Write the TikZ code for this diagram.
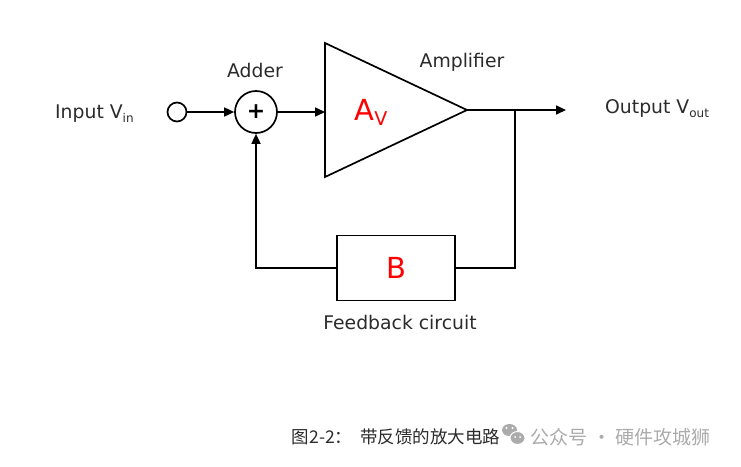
\documentclass[tikz,border=0pt]{standalone}
\usepackage{fontspec}
\setmainfont{DejaVu Sans}
\newfontfamily\cjkfont{Noto Sans CJK SC}
\usetikzlibrary{arrows.meta, positioning}
\definecolor{txtdark}{HTML}{2B2B2B}
\definecolor{wmgray}{HTML}{ABABAB}

\begin{document}
\begin{tikzpicture}[x=1pt,y=-1pt,line width=1.7pt,
    >={Triangle[length=10pt,width=9pt]},
    lbl/.style={text=txtdark, font=\fontsize{18.8}{22}\selectfont},
    gain/.style={text=red, font=\fontsize{29}{32}\selectfont},
    inport/.style={draw, circle, minimum size=19pt, inner sep=0pt},
    sumnode/.style={draw, circle, minimum size=42pt, inner sep=0pt, font=\fontsize{22}{22}\selectfont\bfseries},
    fbbox/.style={draw, rectangle, minimum width=118pt, minimum height=65pt}]
    \useasboundingbox (0,0) rectangle (741,466);

    % Nodes
    \node (in) [inport] at (177,112) {};
    \node (add) [sumnode] at (256,112) {+};
    \draw (325,43) -- (467,110) -- (325,177) -- cycle;
    \coordinate (ampin) at (325,112);
    \coordinate (ampout) at (467,110);
    \coordinate (tap) at (515,110);
    \coordinate (out) at (566,110);
    \node (gainA) [gain] at (371,112) {A\raisebox{-5pt}{\fontsize{19}{19}\selectfont V}};
    \node (fb) [fbbox] at (396,268) {};
    \node (gainB) [gain] at (fb) {B};

    % Labels
    \node (addlbl) [lbl] at (255,70) {Adder};
    \node (amplbl) [lbl] at (462,62) {Amplifier};
    \node (inlbl) [lbl, anchor=west] at (51,114) {Input V\raisebox{-4pt}{\fontsize{12}{12}\selectfont in}};
    \node (outlbl) [lbl, anchor=west] at (601,109) {Output V\raisebox{-4pt}{\fontsize{12}{12}\selectfont out}};
    \node (fblbl) [lbl] at (400,322) {Feedback circuit};

    % Connections
    \draw[->] (in) -- (add);
    \draw[->] (add) -- (ampin);
    \draw[->] (ampout) -- (out);
    \draw (tap) |- (fb);
    \draw[->] (fb) -| (add);

    % Caption
    \node (cap) [anchor=west, text=txtdark, font=\cjkfont\fontsize{17.5}{20}\selectfont, inner sep=0pt] at (291,437) {图2-2：\ \ 带反馈的放大电路};
    \fill[wmgray] (509.5,430) ellipse (7.5pt and 6pt);
    \draw[white, line width=1pt, fill=wmgray] (517.5,438) ellipse (7.5pt and 6.5pt);
    \fill[white] (506.5,428) circle (1.1pt) (512.5,428) circle (1.1pt)
                 (515,437) circle (1pt) (520,437) circle (1pt);
    \node (wm) [anchor=west, text=wmgray, font=\cjkfont\fontsize{19}{22}\selectfont, inner sep=0pt] at (530,437) {公众号 · 硬件攻城狮};
\end{tikzpicture}
\end{document}
